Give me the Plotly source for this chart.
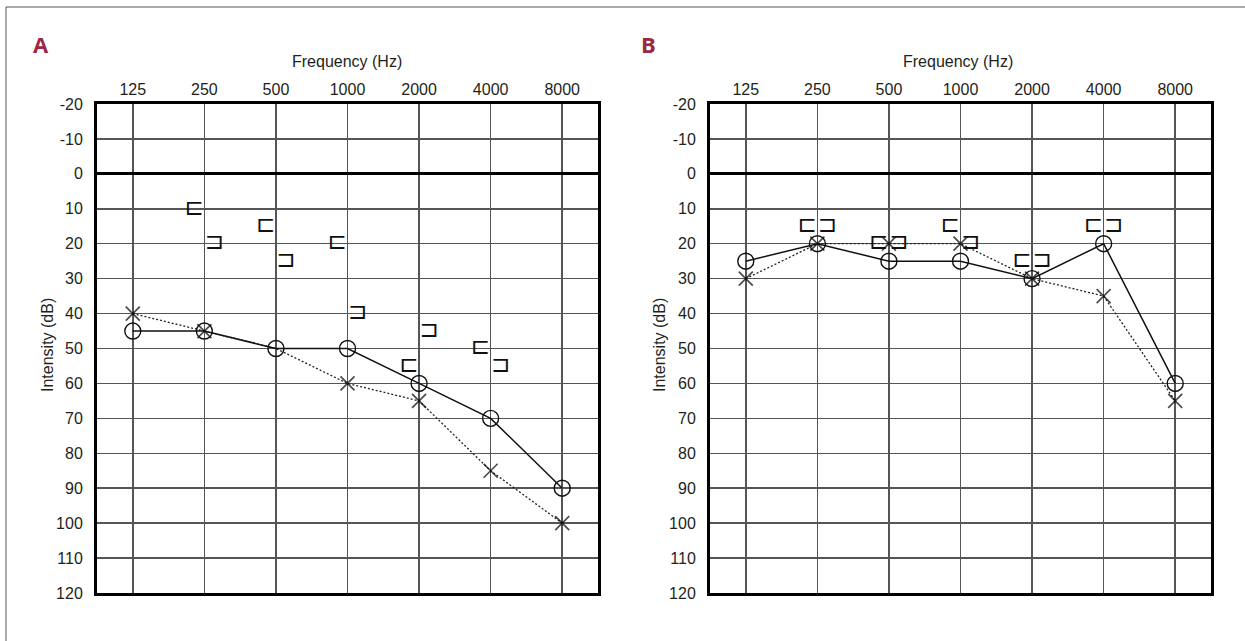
import math
import plotly.graph_objects as go

freqs = [125, 250, 500, 1000, 2000, 4000, 8000]
freq_labels = ["125", "250", "500", "1000", "2000", "4000", "8000"]
db_ticks = [-20, -10, 0, 10, 20, 30, 40, 50, 60, 70, 80, 90, 100, 110, 120]
db_labels = ["-20", "-10", "0", "10", "20", "30", "40", "50", "60", "70", "80", "90", "100", "110", "120"]

# Panel A
a_right_air = [45, 45, 50, 50, 60, 70, 90]          # O, solid
a_left_air = [40, 45, 50, 60, 65, 85, 100]          # X, dotted
a_left_bone_f = [250, 500, 1000, 2000, 4000]        # [ symbols
a_left_bone_db = [10, 15, 20, 55, 50]
a_right_bone_f = [250, 500, 1000, 2000, 4000]       # ] symbols
a_right_bone_db = [20, 25, 40, 45, 55]

# Panel B
b_right_air = [25, 20, 25, 25, 30, 20, 60]
b_left_air = [30, 20, 20, 20, 30, 35, 65]
b_left_bone_f = [250, 500, 1000, 2000, 4000]
b_left_bone_db = [15, 20, 15, 25, 15]
b_right_bone_f = [250, 500, 1000, 2000, 4000]
b_right_bone_db = [15, 20, 20, 25, 15]

W, H = 1245, 641
FONT = "Liberation Sans, Arial, sans-serif"
TXT = "#231f20"
GRID = "#555555"

fig = go.Figure()

panels = [
    ("x", "y", a_right_air, a_left_air, a_left_bone_f, a_left_bone_db, a_right_bone_f, a_right_bone_db, [1, 1, 0, 1, 1, 1, 1]),
    ("x2", "y2", b_right_air, b_left_air, b_left_bone_f, b_left_bone_db, b_right_bone_f, b_right_bone_db, [1, 1, 1, 1, 1, 1, 1]),
]
top_px, bot_px = 104, 593
shift = 2 ** 0.14

for xa, ya, rair, lair, lbf, lbd, rbf, rbd, xshow in panels:
    fig.add_trace(go.Scatter(x=freqs, y=lair, xaxis=xa, yaxis=ya, mode="lines+markers",
                             line=dict(color="#222", width=1.3, dash="2px,2px"),
                             marker=dict(symbol="x-thin-open", size=[14 if s else 0 for s in xshow],
                                         color="#000", line=dict(color="#000", width=1.7)),
                             showlegend=False, cliponaxis=False, hoverinfo="skip"))
    fig.add_trace(go.Scatter(x=freqs, y=rair, xaxis=xa, yaxis=ya, mode="lines+markers",
                             line=dict(color="#111", width=1.5),
                             marker=dict(symbol="circle-open", size=16, color="#111",
                                         line=dict(color="#111", width=1.4)),
                             showlegend=False, cliponaxis=False, hoverinfo="skip"))
    fig.add_trace(go.Scatter(x=[f / shift for f in lbf], y=lbd, xaxis=xa, yaxis=ya, mode="text",
                             text=["⊏"] * len(lbf), textposition="middle center",
                             textfont=dict(family="DejaVu Sans", size=23, color="#111"),
                             showlegend=False, cliponaxis=False, hoverinfo="skip"))
    fig.add_trace(go.Scatter(x=[f * shift for f in rbf], y=rbd, xaxis=xa, yaxis=ya, mode="text",
                             text=["⊐"] * len(rbf), textposition="middle center",
                             textfont=dict(family="DejaVu Sans", size=23, color="#111"),
                             showlegend=False, cliponaxis=False, hoverinfo="skip"))

half = 0.5 * math.log10(2)
xrange_ = [math.log10(125) - half, math.log10(8000) + half]
xcommon = dict(type="log", range=xrange_, tickvals=freqs, ticktext=freq_labels, side="top",
               showgrid=True, gridcolor=GRID, gridwidth=1.5, showline=True, linecolor="#000",
               linewidth=3, mirror=True, ticks="", zeroline=False, automargin=False,
               tickfont=dict(family=FONT, size=16, color=TXT))
ycommon = dict(range=[120, -20], tickvals=db_ticks, ticktext=db_labels, showgrid=True,
               gridcolor=GRID, gridwidth=1.5, showline=True, linecolor="#000", linewidth=3,
               mirror=True, ticks="", zeroline=True, zerolinecolor="#000", zerolinewidth=3,
               automargin=False, tickfont=dict(family=FONT, size=16, color=TXT),
               ticklabelstandoff=8)

ydom = [1 - bot_px / H, 1 - top_px / H]
fig.update_layout(
    width=W, height=H, margin=dict(l=0, r=0, t=0, b=0, pad=0, autoexpand=False),
    paper_bgcolor="white", plot_bgcolor="white", hovermode=False,
    xaxis=dict(domain=[97 / W, 598 / W], anchor="y", **xcommon),
    yaxis=dict(domain=ydom, anchor="x", **ycommon),
    xaxis2=dict(domain=[710 / W, 1211 / W], anchor="y2", **xcommon),
    yaxis2=dict(domain=ydom, anchor="x2", **ycommon),
)

anns = []
for cx, lab, ax_cx in [(41, "A", 347), (648, "B", 958)]:
    anns.append(dict(x=cx / W, y=1 - 44 / H, xref="paper", yref="paper", text="<b>" + lab + "</b>",
                     xanchor="center", yanchor="middle", showarrow=False,
                     font=dict(family="Open Sans, DejaVu Sans", size=22, color="#9b2743")))
    anns.append(dict(x=ax_cx / W, y=1 - 61 / H, xref="paper", yref="paper", text="Frequency (Hz)",
                     xanchor="center", yanchor="middle", showarrow=False,
                     font=dict(family=FONT, size=16, color=TXT)))
for cx in [47, 659]:
    anns.append(dict(x=cx / W, y=1 - 345 / H, xref="paper", yref="paper", text="Intensity (dB)",
                     xanchor="center", yanchor="middle", textangle=-90, showarrow=False,
                     font=dict(family=FONT, size=16, color=TXT)))
fig.update_layout(annotations=anns)

fig.add_shape(type="rect", xref="paper", yref="paper", x0=6 / W, x1=1.05, y0=-0.05, y1=1 - 7 / H,
              line=dict(color="#555", width=1))

fig.write_html("out.html", config={"displayModeBar": False, "staticPlot": True},
               post_script="document.body.style.margin='0';document.body.style.overflow='hidden';")
